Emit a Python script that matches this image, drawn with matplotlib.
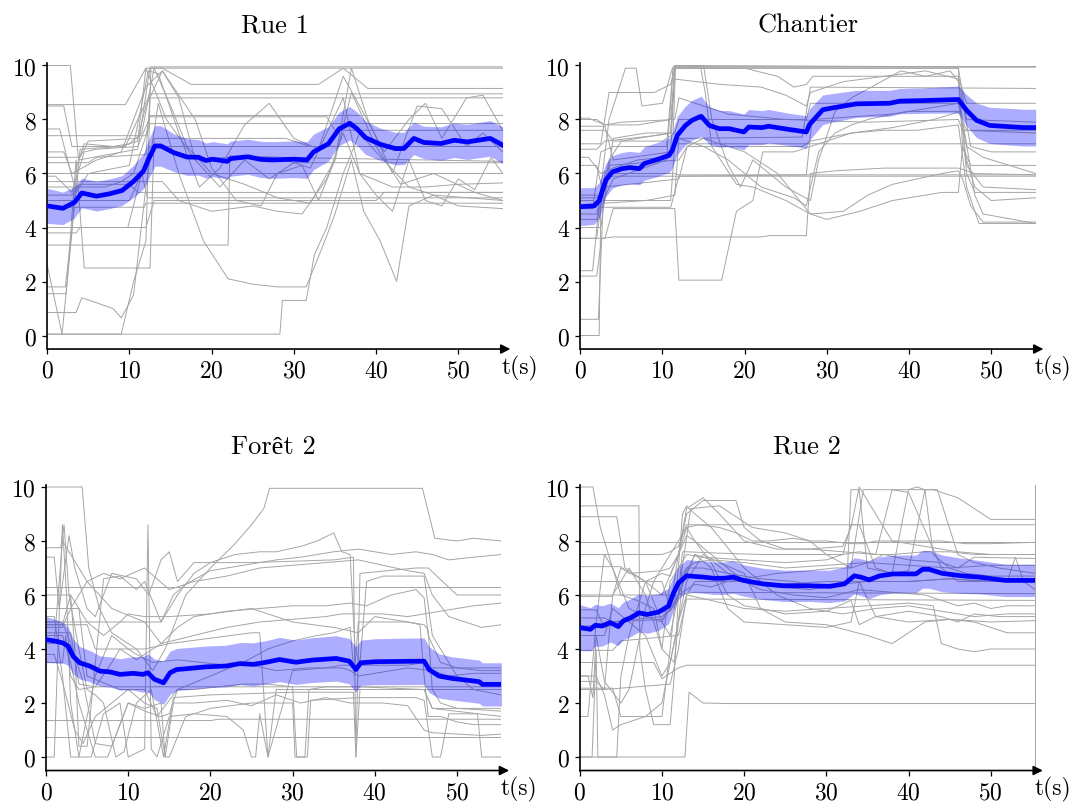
import matplotlib.pyplot as plt

plt.rcParams['font.family'] = ['cmr10', 'Liberation Serif']
plt.rcParams['mathtext.fontset'] = 'cm'
plt.rcParams['axes.formatter.use_mathtext'] = True

T_END = 55.4

# ---------------- Rue 1 ----------------
rue1_t = [0, 1.9, 3.3, 4.2, 6.0, 7.6, 9.1, 10.5, 11.7, 12.4, 13.1, 13.8, 15.4, 17.0, 18.4,
          19.3, 20.1, 21.9, 22.3, 24.4, 26.0, 27.5, 30.0, 31.6, 32.4, 34.2, 35.5, 36.8, 37.7,
          38.7, 40.5, 42.4, 43.4, 44.6, 45.8, 47.9, 49.5, 51.1, 53.9, 55.4]
rue1_mean = [4.8, 4.71, 4.93, 5.28, 5.16, 5.25, 5.37, 5.71, 6.09, 6.58, 7.02, 7.02, 6.77, 6.61, 6.6,
             6.48, 6.53, 6.45, 6.55, 6.62, 6.52, 6.5, 6.53, 6.5, 6.8, 7.1, 7.65, 7.86, 7.65,
             7.33, 7.08, 6.92, 6.93, 7.3, 7.15, 7.11, 7.23, 7.17, 7.3, 7.05]
rue1_spread = [0.65, 0.6, 0.58, 0.55, 0.55, 0.55, 0.55, 0.6, 0.65, 0.72, 0.75, 0.75, 0.7, 0.68, 0.66,
               0.65, 0.65, 0.65, 0.65, 0.65, 0.67, 0.68, 0.68, 0.68, 0.66, 0.64, 0.62, 0.62, 0.62,
               0.62, 0.6, 0.6, 0.6, 0.6, 0.6, 0.62, 0.64, 0.65, 0.66, 0.68]
rue1_lines = [
    [(0, 10), (2.8, 10), (3.8, 6.5), (11, 6.9), (12.5, 9.95), (55.4, 9.95)],
    [(0, 8.55), (9.5, 8.55), (12, 9.9), (14, 9.9), (17.5, 9.3), (33, 9.3), (36, 9.9), (39, 9.15), (55.4, 9.15)],
    [(0, 8.5), (2, 8.5), (3, 7.0), (9.5, 7.0), (11, 8.0), (12.5, 8.95), (55.4, 8.95)],
    [(0, 7.65), (1.5, 7.65), (3.5, 5.3), (5, 6.0), (10, 6.3), (12.3, 9.8), (13.5, 9.7), (16, 7.5), (18.5, 5.5),
     (21, 6.2), (24, 7.8), (27, 8.6), (30, 7.3), (33, 6.9), (36, 9.6), (38, 8.5), (41, 6.8), (44, 8.0),
     (46, 8.6), (48, 7.3), (51, 8.8), (53, 8.9), (55.4, 7.6)],
    [(0, 1.8), (2.2, 1.8), (3.2, 4.5), (4, 6.9), (9, 7.0), (11, 7.2), (12, 9.9), (14.5, 8.0), (18, 6.5),
     (22, 6.6), (28, 6.6), (55.4, 6.45)],
    [(0, 1.55), (2.3, 1.55), (3.5, 6.5), (4.5, 2.5), (12.5, 2.5), (13, 7.3), (29, 7.3), (32, 7.0), (55.4, 7.0)],
    [(0, 0.85), (3.5, 0.85), (4.2, 1.4), (8, 1.0), (9, 0.65), (10.5, 1.5), (12, 5.5), (13.5, 8.6), (16, 6.0),
     (19, 3.5), (22, 2.1), (25, 1.9), (28, 1.8), (31.5, 1.8), (33.5, 3.3), (35, 4.5), (37, 6.5), (38.5, 4.6),
     (40.5, 3.5), (42.5, 2.0), (44, 4.8), (47, 5.2), (50, 4.8), (55.4, 4.7)],
    [(0, 0.05), (28.3, 0.05), (28.6, 1.3), (31.5, 1.3), (32.5, 3.0), (34, 4.0), (36, 6.0), (38, 7.5),
     (40, 6.8), (44, 5.5), (47, 5.2), (55.4, 5.0)],
    [(0, 0.05), (9, 0.05), (10.5, 2.0), (12, 3.5), (12.6, 9.9), (55.4, 9.9)],
    [(0, 3.35), (22, 3.35), (22.2, 6.65), (28, 6.6), (30, 6.4), (55.4, 6.4)],
    [(0, 2.6), (1.8, 0.05), (3, 3.8), (3.6, 6.3), (4.5, 7.1), (8, 7.0), (10, 7.1), (11.5, 7.5), (13, 9.9),
     (15, 8.5), (17, 7.0), (20, 6.0), (24, 5.6), (28, 5.1), (32, 4.9), (35, 6.5), (37, 9.0), (40, 7.0),
     (43, 5.6), (47, 6.0), (52, 5.3), (55.4, 5.0)],
    [(0, 3.8), (3.5, 3.8), (4, 4.0), (9.8, 4.0), (11.5, 6.0), (12.2, 5.1), (55.4, 5.1)],
    [(0, 5.5), (7, 5.5), (9, 5.7), (10.5, 6.0), (12.5, 7.85), (55.4, 7.85)],
    [(0, 5.9), (1, 5.9), (3, 5.3), (4.5, 6.8), (6, 6.9), (11, 7.0), (12.5, 8.1), (34, 8.1), (35, 7.6), (55.4, 7.6)],
    [(0, 4.75), (11.8, 4.75), (12, 4.9), (55.4, 4.9)],
    [(0, 5.2), (3, 5.2), (4, 5.6), (10, 5.6), (11, 5.3), (55.4, 5.3)],
    [(0, 6.6), (4, 6.6), (5, 7.2), (11, 7.3), (12, 8.5), (14, 9.8), (16, 8.8), (18, 6.5), (21, 5.5), (24, 6.5),
     (27, 5.8), (30, 6.4), (32, 6.2), (34, 7.5), (36, 8.8), (38, 6.0), (40, 5.2), (42, 4.6), (44, 6.5),
     (46, 5.0), (48, 4.8), (50, 5.8), (52, 5.4), (54, 6.6), (55.4, 6.0)],
    [(0, 6.4), (5, 6.4), (6, 6.6), (12, 6.7), (12.5, 8.8), (55.4, 8.8)],
    [(0, 5.0), (10, 5.0), (11.5, 6.0), (12.5, 7.0), (55.4, 7.0)],
    [(0, 6.8), (2, 6.8), (3, 6.0), (6, 6.5), (9, 6.8), (12, 9.2), (14, 9.8), (18, 8.0), (20, 6.2), (23, 5.0),
     (26, 4.8), (28, 6.0), (31, 6.3), (33, 5.0), (35, 6.5), (37, 9.9), (39, 8.0), (42, 6.0), (45, 8.5),
     (48, 8.4), (51, 7.0), (53, 7.5), (55.4, 6.8)],
    [(0, 4.0), (12, 4.0), (13, 5.0), (40, 5.0), (41, 5.3), (55.4, 5.3)],
    [(0, 5.7), (14, 5.7), (16, 5.0), (20, 4.6), (25, 4.8), (28, 4.6), (31, 4.5), (34, 5.8), (36, 7.5),
     (38, 6.0), (42, 5.5), (46, 5.5), (50, 5.6), (55.4, 5.65)],
    [(0, 6.0), (55.4, 6.0)],
    [(0, 7.4), (12, 7.4), (12.5, 8.15), (55.4, 8.15)],
]

# ---------------- Chantier ----------------
chantier_t = [0, 1.7, 2.3, 3.1, 3.9, 5.1, 6.0, 7.2, 7.8, 9.2, 10.8, 11.2, 11.8, 12.8, 13.6,
              14.7, 15.7, 16.9, 18.1, 19.9, 20.5, 22.1, 22.9, 25.4, 27.5, 27.9, 29.5, 30.7, 33.6,
              37.6, 38.9, 41.7, 46.0, 47.0, 48.2, 49.8, 51.9, 53.9, 55.4]
chantier_mean = [4.77, 4.8, 5.0, 5.75, 6.06, 6.18, 6.22, 6.18, 6.37, 6.5, 6.67, 6.86, 7.41, 7.78, 7.97,
                 8.12, 7.78, 7.66, 7.66, 7.54, 7.72, 7.7, 7.75, 7.63, 7.54, 7.82, 8.36, 8.43, 8.58,
                 8.6, 8.68, 8.7, 8.74, 8.34, 7.97, 7.78, 7.74, 7.7, 7.7]
chantier_spread = [0.7, 0.68, 0.66, 0.62, 0.6, 0.6, 0.6, 0.6, 0.62, 0.63, 0.64, 0.66, 0.7, 0.72, 0.74,
                   0.74, 0.7, 0.68, 0.67, 0.66, 0.65, 0.63, 0.62, 0.6, 0.6, 0.58, 0.55, 0.53, 0.5,
                   0.48, 0.47, 0.47, 0.5, 0.58, 0.64, 0.67, 0.68, 0.68, 0.68]
chantier_lines = [
    [(0, 0.0), (2.3, 0.0), (2.5, 4.9), (3.5, 6.5), (5, 7.2), (11, 7.5), (11.5, 9.95), (55.4, 9.95)],
    [(0, 0.6), (2.2, 0.6), (2.8, 5.0), (4, 5.8), (10.5, 6.5), (11.3, 9.9), (46, 9.9), (47, 8.0), (55.4, 7.9)],
    [(0, 2.2), (2, 2.2), (2.6, 3.6), (4, 3.65), (22, 3.65), (23, 3.7), (27.5, 3.7), (28, 6.0), (31, 6.1),
     (37, 6.2), (46, 6.2), (48, 6.0), (55.4, 5.95)],
    [(0, 2.4), (1.5, 2.4), (2.5, 5.5), (3.5, 8.0), (5.5, 9.9), (6.8, 9.9), (7.5, 8.5), (10, 8.6), (11.2, 9.9),
     (46, 9.9), (46.5, 7.0), (47.5, 6.3), (55.4, 6.3)],
    [(0, 3.6), (3, 3.6), (4, 4.7), (11.5, 4.7), (12, 2.05), (17.2, 2.05), (19, 4.6), (21, 5.0), (22.2, 6.8),
     (26, 6.8), (28, 7.0), (30, 7.2), (33, 7.5), (37, 7.6), (41, 7.6), (46, 7.8), (47, 5.5), (48.5, 4.15),
     (55.4, 4.15)],
    [(0, 8.05), (1, 8.05), (3, 7.8), (7, 7.8), (11, 8.0), (11.5, 10), (46.5, 9.95), (55.4, 9.95)],
    [(0, 7.75), (3, 7.75), (4, 6.5), (11, 6.8), (11.5, 10), (13, 9.9), (15, 10), (16, 8.0), (18, 6.3),
     (19.5, 5.5), (21, 6.5), (23, 6.0), (25, 5.5), (28, 5.0), (29, 6.5), (31, 8.3), (33, 8.8), (36, 9.3),
     (39, 9.8), (42, 9.6), (45, 9.8), (46, 9.4), (47, 6.3), (49, 5.5), (55.4, 5.4)],
    [(0, 7.6), (3, 7.6), (4, 7.2), (10, 7.2), (11.5, 7.5), (12, 8.0), (27.5, 8.0), (28, 8.6), (46, 8.6),
     (46.5, 8.0), (48, 5.2), (49, 4.5), (55.4, 4.15)],
    [(0, 6.9), (2, 6.9), (3, 7.2), (9, 7.4), (11.3, 7.5), (11.6, 10), (14.6, 10), (15.2, 9.0), (16, 7.0),
     (19, 5.6), (21, 5.5), (25, 5.0), (28, 4.5), (30, 4.3), (34, 4.6), (38, 5.0), (44, 5.3), (46, 5.3),
     (46.5, 7.0), (48, 5.5), (50, 5.0), (55.4, 5.1)],
    [(0, 6.6), (1, 6.6), (2.5, 6.0), (4, 6.2), (7, 6.5), (10, 6.6), (11.5, 7.0), (12, 7.3), (27, 7.35),
     (28, 9.2), (55.4, 9.15)],
    [(0, 6.3), (2, 6.3), (3, 5.0), (11, 5.0), (11.5, 7.1), (55.4, 7.1)],
    [(0, 5.2), (2, 5.2), (3, 4.9), (8, 5.0), (11.5, 5.2), (12, 7.3), (15, 7.0), (18, 6.5), (22, 5.5),
     (26, 5.1), (27.5, 4.8), (28, 5.5), (29, 6.8), (31, 7.5), (33, 7.8), (35, 8.0), (38, 8.2), (42, 8.4),
     (46, 8.6), (47, 7.0), (49, 6.6), (55.4, 6.0)],
    [(0, 5.0), (1.5, 5.0), (2.5, 4.75), (11, 4.75), (12, 5.9), (27.5, 5.95), (28.2, 8.0), (38, 8.2),
     (40, 8.3), (46, 8.3), (47, 7.6), (55.4, 7.6)],
    [(0, 4.7), (1.5, 4.7), (2.5, 6.8), (4, 7.0), (10.5, 7.0), (11.3, 9.95), (55.4, 9.95)],
    [(0, 4.3), (2, 4.3), (3, 5.5), (12, 5.8), (13, 7.0), (15, 7.3), (20, 6.8), (24, 6.0), (28, 4.5),
     (32, 4.6), (35, 5.2), (38, 5.6), (41, 5.8), (44, 6.0), (46, 6.1), (46.5, 5.8), (47.5, 4.8), (49, 4.2),
     (55.4, 4.2)],
    [(0, 3.6), (2, 3.6), (3, 6.0), (11.5, 6.0), (12, 5.95), (55.4, 5.95)],
    [(0, 7.1), (2.5, 7.1), (3.5, 9.0), (9, 9.0), (11, 9.3), (11.5, 9.9), (20, 9.9), (24, 9.6), (26, 9.2),
     (27.5, 9.3), (28.3, 9.6), (46, 9.6), (47, 8.6), (55.4, 8.6)],
    [(0, 5.1), (3, 5.1), (4, 7.3), (8, 7.5), (11, 7.5), (11.4, 9.5), (17, 9.3), (22, 9.2), (25, 8.9),
     (27.5, 8.5), (28, 9.0), (32, 9.4), (37, 9.6), (42, 9.8), (46, 9.5), (47.5, 7.0), (50, 6.8), (55.4, 6.8)],
    [(0, 4.5), (2, 4.5), (3, 5.9), (55.4, 5.9)],
    [(0, 8.0), (2, 8.0), (3, 7.8), (5, 7.9), (11.5, 8.0), (12, 8.8), (18, 8.2), (25, 8.0), (35, 7.9),
     (46, 8.0), (46.5, 7.6), (55.4, 7.5)],
    [(0, 4.0), (2.5, 4.0), (3.5, 6.3), (12, 6.5), (13, 7.0), (27, 7.0), (28, 7.2), (33, 7.5), (38, 7.7),
     (43, 8.0), (46.3, 8.3), (47, 6.0), (48, 5.3), (55.4, 5.3)],
]

# ---------------- Forêt 2 ----------------
foret_t = [0, 1.3, 2.1, 2.7, 3.3, 4.1, 5.3, 6.6, 7.8, 9.0, 10.6, 11.8, 12.4, 13.2, 14.3,
           15.1, 15.9, 17.1, 19.5, 21.9, 23.6, 25.2, 26.8, 28.4, 30.4, 32.4, 35.3, 36.9, 37.7,
           38.3, 40.1, 43.0, 46.0, 46.6, 47.8, 49.4, 51.1, 52.7, 53.1, 55.4]
foret_mean = [4.35, 4.28, 4.22, 4.10, 3.73, 3.49, 3.37, 3.18, 3.15, 3.06, 3.10, 3.06, 3.12, 2.88, 2.75,
              3.12, 3.24, 3.27, 3.34, 3.37, 3.46, 3.43, 3.51, 3.61, 3.51, 3.59, 3.65, 3.55, 3.24,
              3.49, 3.53, 3.54, 3.55, 3.24, 3.0, 2.91, 2.85, 2.79, 2.69, 2.69]
foret_spread = [0.85, 0.8, 0.75, 0.7, 0.65, 0.6, 0.58, 0.56, 0.56, 0.58, 0.62, 0.66, 0.7, 0.75, 0.8,
                0.8, 0.78, 0.78, 0.77, 0.77, 0.78, 0.8, 0.8, 0.82, 0.82, 0.83, 0.84, 0.84, 0.84,
                0.84, 0.85, 0.86, 0.86, 0.85, 0.82, 0.8, 0.8, 0.8, 0.8, 0.8]
foret_lines = [
    [(0, 10), (4.4, 10), (5.2, 7.0), (6.5, 5.5), (8, 4.6), (11, 4.0), (13, 3.2), (14.5, 4.0), (17, 6.0),
     (20, 7.0), (23, 7.9), (25, 8.6), (26.5, 9.2), (27.2, 9.95), (45.8, 9.95), (47.3, 8.1), (50, 8.0),
     (52, 8.1), (55.4, 8.0)],
    [(0, 7.75), (1.8, 7.75), (2.2, 8.6), (2.8, 6.0), (4, 4.0), (5, 2.5), (6, 2.3), (7, 2.0), (8.5, 0.0),
     (9.5, 0.2), (11, 2.0), (12.8, 2.5), (14.3, 0.0), (15.5, 2.2), (20, 2.3), (30, 2.4), (37.4, 2.4),
     (37.7, 0.0), (38.2, 2.5), (46, 2.5), (47, 1.8), (55.4, 1.8)],
    [(0, 7.4), (1, 7.4), (1.6, 5.5), (2.8, 8.2), (3.5, 7.0), (5, 5.5), (6, 5.2), (8, 6.8), (11, 6.6),
     (12.5, 6.0), (14, 7.3), (15, 7.6), (16, 6.5), (18, 7.2), (25, 7.2), (35, 7.3), (37.4, 7.4),
     (37.7, 0.0), (38.2, 6.8), (45, 7.0), (46.5, 7.0), (50, 6.0), (55.4, 6.0)],
    [(0, 0.0), (1, 0.0), (2, 8.6), (2.5, 6.0), (3, 2.0), (4, 0.0), (5.5, 0.0), (7, 1.6), (9, 2.0), (10, 0.0),
     (12, 0.3), (12.4, 8.6), (12.8, 0.3), (13.5, 0.0), (15, 1.5), (18, 1.6), (22, 1.5), (24, 1.0),
     (25, 0.0), (25.5, 0.0), (26, 1.6), (27, 0.0), (28, 2.5), (55.4, 2.5)],
    [(0, 6.3), (55.4, 6.3)],
    [(0, 5.0), (14, 5.0), (15, 5.5), (16, 6.0), (18, 6.8), (20, 7.2), (23, 7.5), (26, 7.6), (28, 7.6),
     (31, 7.8), (33, 8.0), (35, 8.3), (36, 7.6), (37, 7.5), (37.6, 4.0), (38.2, 3.5), (39, 6.5), (41, 6.7),
     (44, 6.7), (46, 6.7), (47, 4.5), (50, 3.0), (52, 2.5), (55.4, 2.3)],
    [(0, 5.5), (4, 5.5), (5, 3.0), (9, 2.5), (12, 2.5), (13.5, 1.5), (16, 2.5), (20, 3.0), (24, 3.5),
     (27, 4.0), (30, 4.3), (33, 4.5), (35, 4.6), (37, 4.8), (37.5, 3.0), (38, 5.0), (40, 5.0), (44, 5.0),
     (45.5, 4.9), (46, 3.0), (46.5, 1.5), (48, 1.5), (50, 1.3), (52, 1.2), (55.4, 1.2)],
    [(0, 4.8), (2, 4.8), (3, 5.5), (5, 6.5), (7, 6.8), (9, 6.6), (12, 7.0), (15, 6.2), (18, 6.5), (22, 6.7),
     (26, 7.0), (30, 7.1), (34, 7.2), (38, 7.3), (41, 7.1), (44, 6.9), (46, 6.8), (47, 6.0), (49, 5.2),
     (51, 5.0), (53, 4.8), (55.4, 4.9)],
    [(0, 4.6), (3, 4.6), (4, 2.7), (6, 2.6), (55.4, 2.6)],
    [(0, 5.0), (2, 5.0), (3, 4.2), (4.5, 2.8), (6, 0.5), (8, 0.4), (10, 2.0), (12, 1.8), (14, 2.0),
     (14.5, 0.0), (15, 0.0), (17, 1.5), (20, 1.8), (25, 2.0), (30, 2.0), (30.3, 0.0), (31.8, 0.0),
     (32.2, 2.1), (38, 2.2), (45, 2.2), (46, 2.1), (47, 0.0), (48, 0.0), (49, 1.6), (52.5, 1.6),
     (53, 0.0), (55.4, 0.0)],
    [(0, 6.0), (3, 6.0), (3.5, 4.0), (4, 0.4), (5, 0.4), (6.5, 5.0), (7, 6.6), (9, 6.7), (11, 6.2),
     (12, 6.5), (14, 5.0), (15.5, 6.0), (17, 6.4), (20, 6.9), (24, 7.1), (28, 7.3), (31, 7.4), (33, 7.5),
     (35, 7.6), (38, 7.7), (42, 7.5), (45, 7.6), (47, 7.5), (49, 7.3), (52, 7.4), (55.4, 7.5)],
    [(0, 4.5), (2, 4.5), (3, 3.5), (4, 2.0), (5, 1.0), (6, 0.0), (7.5, 0.0), (9, 1.2), (10, 2.0),
     (12, 1.7), (14, 1.5), (15, 1.6), (16, 2.5), (18, 2.5), (21, 2.6), (24, 2.7), (27, 2.7), (30, 2.6),
     (30.5, 0.0), (31.5, 0.0), (32, 2.5), (34, 2.6), (37, 2.6), (38, 2.6), (46, 2.5), (47, 1.8), (55.4, 1.5)],
    [(0, 4.2), (1, 4.2), (2, 8.0), (5, 6.5), (8, 5.5), (12, 5.0), (14, 4.2), (16, 4.8), (18, 5.2),
     (22, 5.4), (26, 5.5), (30, 5.6), (34, 5.6), (37, 5.7), (39, 5.6), (42, 6.0), (45, 6.2), (46, 5.9),
     (46.5, 4.5), (48, 3.5), (50, 3.3), (53, 3.2), (55.4, 3.2)],
    [(0, 4.9), (5, 4.9), (6, 4.0), (12, 4.0), (15, 4.2), (20, 4.4), (25, 4.6), (26, 4.6), (27, 0.0),
     (30, 3.2), (34, 3.3), (36, 3.4), (40, 3.4), (44, 3.4), (46, 3.5), (46.5, 3.3), (50, 3.3), (55.4, 3.3)],
    [(0, 3.8), (1, 3.8), (2, 2.8), (3.5, 1.0), (4.5, 0.5), (6, 1.5), (8, 2.0), (10, 2.5), (12, 2.0),
     (13.5, 1.8), (14.5, 0.0), (15.5, 2.0), (18, 2.0), (22, 2.1), (25, 1.9), (28, 2.3), (31, 2.0),
     (34, 2.2), (37, 2.0), (41, 2.0), (44, 1.9), (46, 1.0), (47, 0.9), (50, 0.85), (53, 0.8), (55.4, 0.85)],
    [(0, 0.75), (55.4, 0.75)],
    [(0, 1.35), (20, 1.35), (21, 1.4), (55.4, 1.4)],
    [(0, 5.2), (1, 5.2), (2, 3.0), (3, 0.0), (4, 0.0), (6, 3.0), (8, 4.5), (10, 4.0), (11, 3.8), (13, 3.5),
     (16, 3.6), (19, 3.5), (22, 3.4), (25, 3.4), (28, 3.2), (32, 3.3), (36, 3.3), (37, 3.2), (38, 3.0),
     (44, 3.3), (47, 3.2), (49, 3.0), (52, 3.1), (55.4, 3.1)],
    [(0, 4.9), (2, 4.9), (3, 6.0), (4, 5.5), (5, 5.0), (7, 4.5), (9, 5.0), (10, 5.3), (12, 5.2), (15, 5.2),
     (20, 5.3), (25, 5.5), (26, 5.4), (30, 5.0), (35, 4.8), (38, 4.6), (40, 5.2), (44, 5.0), (46, 4.9),
     (46.5, 4.7), (47, 2.5), (48, 2.0), (50, 1.8), (55.4, 1.7)],
    [(0, 3.5), (2, 3.5), (2.4, 4.5), (3, 3.0), (4, 2.5), (6, 2.6), (8, 3.5), (9, 4.0), (10, 3.8), (11, 3.6),
     (14, 4.2), (18, 4.5), (22, 4.8), (26, 5.0), (30, 5.1), (34, 5.2), (36, 5.3), (41, 5.3), (44, 5.2),
     (48, 5.4), (52, 5.6), (55.4, 5.7)],
]

# ---------------- Rue 2 ----------------
rue2_t = [0, 1.3, 1.9, 2.7, 3.7, 4.7, 5.3, 6.2, 7.2, 8.2, 9.6, 10.8, 11.4, 12.0, 13.0,
          14.3, 15.1, 16.3, 17.5, 18.7, 19.9, 22.3, 24.8, 28.0, 30.4, 32.2, 33.4, 34.2, 35.2,
          36.5, 38.1, 40.9, 41.7, 42.5, 44.1, 46.5, 48.6, 51.8, 55.4]
rue2_mean = [4.79, 4.73, 4.88, 4.85, 4.98, 4.83, 5.04, 5.16, 5.34, 5.28, 5.37, 5.59, 6.07, 6.44, 6.71,
             6.68, 6.66, 6.62, 6.62, 6.66, 6.54, 6.41, 6.34, 6.34, 6.32, 6.41, 6.71, 6.66, 6.56,
             6.71, 6.78, 6.78, 6.95, 6.95, 6.8, 6.71, 6.66, 6.54, 6.54]
rue2_spread = [0.85, 0.8, 0.78, 0.75, 0.72, 0.7, 0.7, 0.7, 0.7, 0.7, 0.68, 0.66, 0.63, 0.6, 0.6,
               0.6, 0.6, 0.6, 0.6, 0.6, 0.58, 0.58, 0.58, 0.58, 0.6, 0.63, 0.67, 0.68, 0.7,
               0.7, 0.7, 0.7, 0.7, 0.7, 0.68, 0.65, 0.62, 0.6, 0.6]
rue2_lines = [
    [(0, 10), (1.6, 10), (2.5, 8.5), (4, 7.0), (6, 5.5), (8, 5.2), (10, 5.0), (11, 5.5), (12, 7.5), (13, 8.5),
     (14.5, 8.6), (17, 8.5), (19, 8.3), (21, 8.0), (23, 8.0), (26, 8.1), (28, 8.0), (30, 8.0), (33, 7.9),
     (34.5, 7.9), (36, 8.0), (40, 8.0), (44, 8.0), (47, 7.9), (50, 7.9), (55.4, 7.95)],
    [(0, 9.3), (7.2, 9.3), (7.3, 4.0), (8, 2.5), (9, 1.2), (11, 1.2), (11.5, 3.0), (12, 6.0), (13.5, 9.2),
     (17, 9.3), (21, 8.5), (25, 8.3), (28, 8.0), (30, 7.5), (33, 7.0), (35, 7.2), (37, 7.5), (40, 7.3),
     (44, 7.2), (46, 7.0), (48, 7.4), (55.4, 7.35)],
    [(0, 8.9), (4.5, 8.9), (5.5, 7.0), (8, 6.5), (10, 6.0), (12, 7.5), (13, 9.0), (15, 9.5), (19, 9.5),
     (20, 8.5), (22, 8.0), (25, 7.7), (28, 7.7), (32, 7.8), (33, 8.5), (34, 10), (36, 9.0), (38, 8.0),
     (42, 7.8), (46, 7.6), (50, 7.5), (55.4, 7.5)],
    [(0, 0.0), (1.5, 0.0), (2, 4.0), (2.2, 0.0), (4.5, 0.0), (5, 3.0), (6, 4.5), (8, 6.5), (10, 5.0),
     (11, 4.5), (12, 6.0), (13, 7.0), (14, 7.2), (16, 7.3), (20, 7.2), (25, 7.0), (30, 7.1), (35, 7.2),
     (40, 7.1), (45, 7.0), (50, 7.1), (55.4, 7.1)],
    [(0, 0.0), (12.8, 0.0), (13.3, 2.4), (15, 2.0), (18, 1.98), (55.4, 1.98)],
    [(0, 7.95), (55.4, 7.95)],
    [(0, 2.5), (3, 2.5), (4, 6.0), (6, 7.0), (8, 6.0), (10, 4.0), (11.5, 3.5), (12.5, 6.5), (14, 7.5),
     (16, 7.0), (18, 5.5), (20, 5.0), (25, 4.9), (30, 4.8), (33, 5.0), (34, 6.5), (36, 5.2), (40, 5.0),
     (45, 5.1), (50, 5.0), (55.4, 5.05)],
    [(0, 3.0), (2, 3.0), (3, 2.3), (4, 1.0), (5, 1.2), (8, 1.5), (10, 2.0), (11, 3.5), (12, 5.0), (13, 6.0),
     (16, 5.8), (20, 5.5), (25, 5.4), (30, 5.5), (35, 5.6), (40, 5.7), (43, 5.6), (44, 4.2), (46, 4.0),
     (48, 3.9), (50, 4.0), (52, 4.0), (55.4, 4.0)],
    [(0, 7.5), (10, 7.5), (11, 7.6), (12, 7.8), (13, 8.6), (55.4, 8.6)],
    [(0, 7.05), (5, 7.05), (6, 6.8), (10, 6.9), (11, 7.0), (12, 7.5), (13, 8.2), (14, 8.0), (16, 7.5),
     (18, 7.0), (20, 6.5), (24, 6.3), (28, 6.2), (32, 6.4), (35, 6.5), (40, 6.5), (45, 6.6), (50, 6.5),
     (55.4, 6.55)],
    [(0, 6.5), (10, 6.5), (11, 5.5), (12, 6.0), (14, 7.5), (16, 7.3), (18, 6.8), (22, 6.2), (26, 6.0),
     (30, 5.9), (34, 6.2), (38, 6.1), (42, 6.0), (44, 5.8), (46, 5.6), (48, 5.7), (50, 5.5), (52, 5.6),
     (55.4, 5.6)],
    [(0, 5.95), (4, 5.95), (5, 7.0), (8, 6.5), (10, 6.8), (11, 6.7), (12, 7.5), (13, 9.2), (15, 9.6),
     (17, 9.0), (20, 8.0), (24, 7.7), (28, 7.7), (32, 7.6), (36, 7.5), (38, 9.9), (40, 9.8), (44, 7.0),
     (46, 6.5), (48, 6.5), (50, 6.5), (52, 6.5), (53, 7.4), (54, 6.5), (55.4, 6.2)],
    [(0, 5.45), (2, 5.45), (3, 4.8), (6, 5.1), (8, 5.3), (11, 5.4), (12, 6.0), (14, 6.4), (16, 6.3),
     (18, 6.5), (20, 6.6), (24, 6.8), (28, 6.9), (31, 7.0), (33, 7.0), (34.5, 9.9), (36, 9.9), (40, 9.9),
     (43, 9.9), (46, 9.6), (50, 8.8), (55.4, 8.8)],
    [(0, 5.15), (3, 5.15), (4, 5.0), (10, 5.1), (11, 5.5), (12, 6.5), (13, 7.0), (15, 7.0), (18, 6.8),
     (22, 6.6), (26, 6.5), (30, 6.3), (32.5, 6.4), (33, 9.9), (34, 9.9), (35, 7.0), (38, 6.8), (40, 6.9),
     (42, 9.9), (43.5, 9.9), (46, 7.5), (48, 7.2), (51, 7.0), (55.4, 6.8)],
    [(0, 4.85), (1, 4.85), (2, 4.9), (4, 5.0), (5, 5.05), (10, 5.2), (11.5, 5.6), (12, 6.0), (14, 6.1),
     (55.4, 6.05)],
    [(0, 4.5), (3, 4.5), (4, 5.5), (6, 5.0), (8, 4.5), (10, 3.0), (11, 3.5), (13, 6.5), (15, 7.5),
     (17, 7.2), (20, 6.8), (22, 5.5), (25, 5.0), (30, 4.9), (35, 4.5), (38, 4.2), (40, 4.6), (42, 5.0),
     (45, 5.1), (48, 5.0), (52, 4.6), (55.4, 4.6)],
    [(0, 3.95), (4, 3.95), (5, 4.3), (12, 4.5), (13, 5.85), (55.4, 5.8)],
    [(0, 3.5), (9, 3.5), (10, 2.9), (12, 3.3), (13, 3.4), (17, 3.4), (55.4, 3.4)],
    [(0, 3.0), (1, 3.0), (1.6, 2.2), (2, 4.5), (3, 2.8), (5, 2.0), (6, 2.5), (7, 4.0), (8, 5.5), (9, 6.5),
     (10, 7.0), (11, 7.5), (12, 8.0), (13, 8.5), (14, 8.0), (16, 7.2), (18, 6.0), (20, 5.6), (22, 5.5),
     (25, 5.3), (30, 5.4), (33, 5.8), (34, 4.9), (36, 5.2), (38, 5.3), (40, 5.4), (44, 5.2), (46, 5.0),
     (48, 5.3), (51, 5.2), (55.4, 5.2)],
    [(0, 2.8), (2, 2.8), (3, 2.5), (7, 2.6), (11, 2.7), (12, 4.0), (13, 6.0), (14, 6.5), (20, 6.5),
     (25, 6.4), (30, 6.5), (40, 6.5), (45, 6.6), (50, 6.5), (55.4, 6.5)],
    [(0, 2.55), (4, 2.55), (5, 1.5), (10, 1.5), (11, 4.0), (12, 7.0), (12.5, 9.0), (13, 9.3), (14, 9.0),
     (16, 8.5), (20, 7.0), (24, 6.0), (28, 5.5), (32, 5.3), (36, 5.5), (40, 5.6), (44, 5.4), (48, 5.2),
     (52, 5.3), (55.4, 5.3)],
    [(0, 1.5), (1, 1.5), (2, 5.0), (3, 7.5), (4, 7.0), (5, 6.0), (7, 5.8), (9, 5.5), (10, 4.0), (11, 6.5),
     (13, 7.5), (15, 7.4), (20, 7.3), (25, 7.2), (30, 7.3), (32, 7.5), (33, 8.6), (34, 8.6), (36, 7.0),
     (38, 6.8), (40, 9.9), (41, 10), (42, 9.9), (43, 7.5), (45, 7.0), (47, 6.8), (50, 6.7), (55.4, 6.7)],
    [(0, 6.0), (12, 6.0), (12.5, 7.6), (13, 7.6), (17, 7.55), (22, 7.5), (27, 7.5), (32, 7.5), (34, 7.6),
     (36, 7.5), (38, 7.5), (42, 7.6), (45, 7.6), (48, 7.5), (50, 7.5), (55.4, 7.5)],
]

panels = [
    ('Rue 1', rue1_t, rue1_mean, rue1_spread, rue1_lines, [0.0441, 0.5641, 0.4248, 0.3558]),
    ('Chantier', chantier_t, chantier_mean, chantier_spread, chantier_lines, [0.5413, 0.5641, 0.4248, 0.3558]),
    ('Forêt 2', foret_t, foret_mean, foret_spread, foret_lines, [0.0429, 0.0392, 0.4248, 0.3558]),
    ('Rue 2', rue2_t, rue2_mean, rue2_spread, rue2_lines, [0.5408, 0.0392, 0.4248, 0.3558]),
]

fig = plt.figure(figsize=(10.72, 8.03), dpi=100)

for title, t, mean, spread, lines, pos in panels:
    ax = fig.add_axes(pos)
    for pts in lines:
        lt, lv = zip(*pts)
        ax.plot(lt, lv, color='#a5a5a5', lw=0.7, zorder=1)
    lo = [m - s for m, s in zip(mean, spread)]
    hi = [m + s for m, s in zip(mean, spread)]
    ax.fill_between(t, lo, hi, color='#0000ff', alpha=0.32, lw=0, zorder=2)
    ax.plot(t, mean, color='#0000ff', lw=3.4, zorder=3)

    ax.set_xlim(0, T_END)
    ax.set_ylim(-0.5, 10.08)
    ax.set_xticks([0, 10, 20, 30, 40, 50])
    ax.set_yticks([0, 2, 4, 6, 8, 10])
    ax.tick_params(direction='out', length=3.5, width=0.9, labelsize=17, pad=4)
    ax.spines['top'].set_visible(False)
    ax.spines['bottom'].set_visible(False)
    ax.spines['left'].set_linewidth(1.2)
    if title == 'Rue 2':
        ax.spines['right'].set_color('#a5a5a5')
        ax.spines['right'].set_linewidth(0.7)
    else:
        ax.spines['right'].set_visible(False)

    ax.annotate('', xy=(1.017, 0), xytext=(0, 0), xycoords='axes fraction',
                arrowprops=dict(arrowstyle='-|>', color='black', lw=1.2,
                                mutation_scale=14, shrinkA=0, shrinkB=0))
    ax.annotate('t(s)', xy=(0.998, 0), xycoords='axes fraction',
                xytext=(0, -4), textcoords='offset points',
                ha='left', va='top', fontsize=17)
    ax.set_title(title, fontsize=19, pad=23)

fig.savefig('out.png', dpi=100)
